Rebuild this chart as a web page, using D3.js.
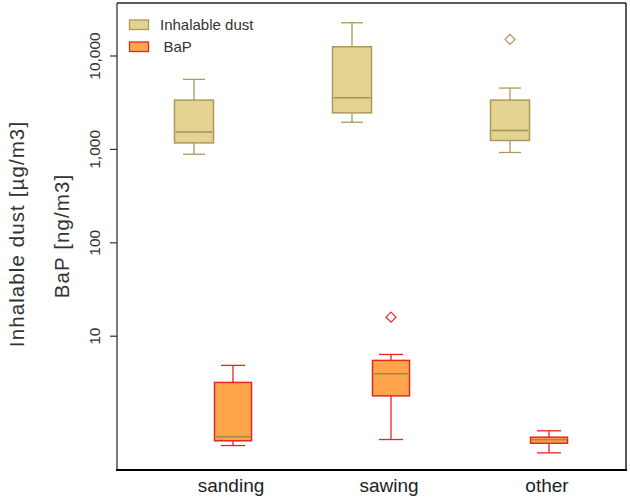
<!DOCTYPE html>
<html><head><meta charset="utf-8">
<script src="https://cdn.jsdelivr.net/npm/d3@7"></script>
<style>body{margin:0;background:#fff;} text{font-family:"Liberation Sans",Arial,sans-serif;}</style>
</head><body>
<script>
const categories = ["sanding", "sawing", "other"];
// Inhalable dust [µg/m3]: [whiskerLow, q1, median, q3, whiskerHigh]
const dustStats = [
  [877, 1160, 1520, 3330, 5550],
  [1930, 2430, 3520, 12400, 22400],
  [915, 1230, 1570, 3330, 4480]
];
const dustOutliers = [[], [], [14900]];
// BaP [ng/m3]
const bapStats = [
  [0.667, 0.75, 0.827, 3.16, 4.81],
  [0.774, 2.27, 3.92, 5.44, 6.3],
  [0.557, 0.706, 0.768, 0.819, 0.959]
];
const bapOutliers = [[], [15.8], []];
const tickValues = [10, 100, 1000, 10000];
const seriesNames = ["Inhalable dust", "BaP"];

const W = 630, H = 501;
const L = 117, T = 3, R = 626, B = 470;
const svg = d3.select("body").append("svg").attr("width", W).attr("height", H);

const y = d3.scaleLog().domain([0.365, 36470]).range([B, T]);
const x = d3.scalePoint().domain(categories).range([194, 510]);

const styles = [
  {fill: "#E3D494", stroke: "#AE9858", median: "#A89050", bw: 39, cap: 22, off: 0},
  {fill: "#FFA64D", stroke: "#E8251E", median: "#A08A40", bw: 37, cap: 24, off: 39}
];
const allStats = [dustStats, bapStats];
const allOut = [dustOutliers, bapOutliers];

allStats.forEach((stats, si) => {
  const st = styles[si];
  const g = svg.append("g");
  stats.forEach((s, i) => {
    const cx = x(categories[i]) + st.off;
    // whiskers
    g.append("line").attr("x1", cx).attr("x2", cx).attr("y1", y(s[0])).attr("y2", y(s[1])).attr("stroke", st.stroke).attr("stroke-width", 1.3);
    g.append("line").attr("x1", cx).attr("x2", cx).attr("y1", y(s[3])).attr("y2", y(s[4])).attr("stroke", st.stroke).attr("stroke-width", 1.3);
    [s[0], s[4]].forEach(v => g.append("line").attr("x1", cx - st.cap/2).attr("x2", cx + st.cap/2).attr("y1", y(v)).attr("y2", y(v)).attr("stroke", st.stroke).attr("stroke-width", 1.3));
    g.append("rect").attr("x", cx - st.bw/2).attr("width", st.bw).attr("y", y(s[3])).attr("height", y(s[1]) - y(s[3]))
      .attr("fill", st.fill).attr("stroke", st.stroke).attr("stroke-width", 1.5);
    g.append("line").attr("x1", cx - st.bw/2 + 1).attr("x2", cx + st.bw/2 - 1).attr("y1", y(s[2])).attr("y2", y(s[2])).attr("stroke", st.median).attr("stroke-width", 1.5);
    allOut[si][i].forEach(v => {
      const py = y(v), r = 5;
      g.append("path").attr("d", `M${cx},${py-r}L${cx+r},${py}L${cx},${py+r}L${cx-r},${py}Z`)
        .attr("fill", "none").attr("stroke", st.stroke).attr("stroke-width", 1.2);
    });
  });
});

// frame
svg.append("line").attr("x1", L).attr("x2", R).attr("y1", T).attr("y2", T).attr("stroke", "#222").attr("stroke-width", 1.3);
svg.append("line").attr("x1", R).attr("x2", R).attr("y1", T).attr("y2", B).attr("stroke", "#222").attr("stroke-width", 1.5);
svg.append("line").attr("x1", L).attr("x2", L).attr("y1", T).attr("y2", B).attr("stroke", "#333").attr("stroke-width", 1.3);
svg.append("line").attr("x1", L - 1).attr("x2", R + 1).attr("y1", B).attr("y2", B).attr("stroke", "#000").attr("stroke-width", 2.2);

// y axis
const ax = svg.append("g").attr("transform", `translate(${L},0)`)
  .call(d3.axisLeft(y).tickValues(tickValues).tickFormat(d3.format(",")).tickSize(7).tickSizeOuter(0));
ax.select(".domain").remove();
ax.selectAll(".tick line").attr("stroke", "#333").attr("stroke-width", 1.2);
ax.selectAll(".tick text").attr("x", null).attr("dy", null)
  .attr("transform", "translate(-17,0) rotate(-90)")
  .attr("text-anchor", "middle").attr("font-size", 15.5).attr("fill", "#333")
  .style("font-family", '"Liberation Sans",Arial,sans-serif');

// category labels
categories.forEach(c => {
  svg.append("text").attr("x", x(c) + 37).attr("y", 492).attr("text-anchor", "middle")
    .attr("font-size", 19).attr("fill", "#222").text(c);
});

// axis titles
svg.append("text").attr("transform", "translate(23.5,234) rotate(-90)").attr("text-anchor", "middle")
  .attr("font-size", 20.5).attr("letter-spacing", 1.1).attr("fill", "#333").text("Inhalable dust [µg/m3]");
svg.append("text").attr("transform", "translate(68.5,236) rotate(-90)").attr("text-anchor", "middle")
  .attr("font-size", 20.5).attr("letter-spacing", 1.1).attr("fill", "#333").text("BaP [ng/m3]");

// legend
seriesNames.forEach((n, i) => {
  const st = styles[i];
  svg.append("rect").attr("x", 129.5).attr("y", 20 + i * 22).attr("width", 19).attr("height", 9.5)
    .attr("fill", st.fill).attr("stroke", st.stroke).attr("stroke-width", 1.3);
  svg.append("text").attr("x", i === 0 ? 160 : 163.5).attr("y", 30 + i * 22)
    .attr("font-size", 15).attr("fill", "#333").text(n);
});
</script>
</body></html>
